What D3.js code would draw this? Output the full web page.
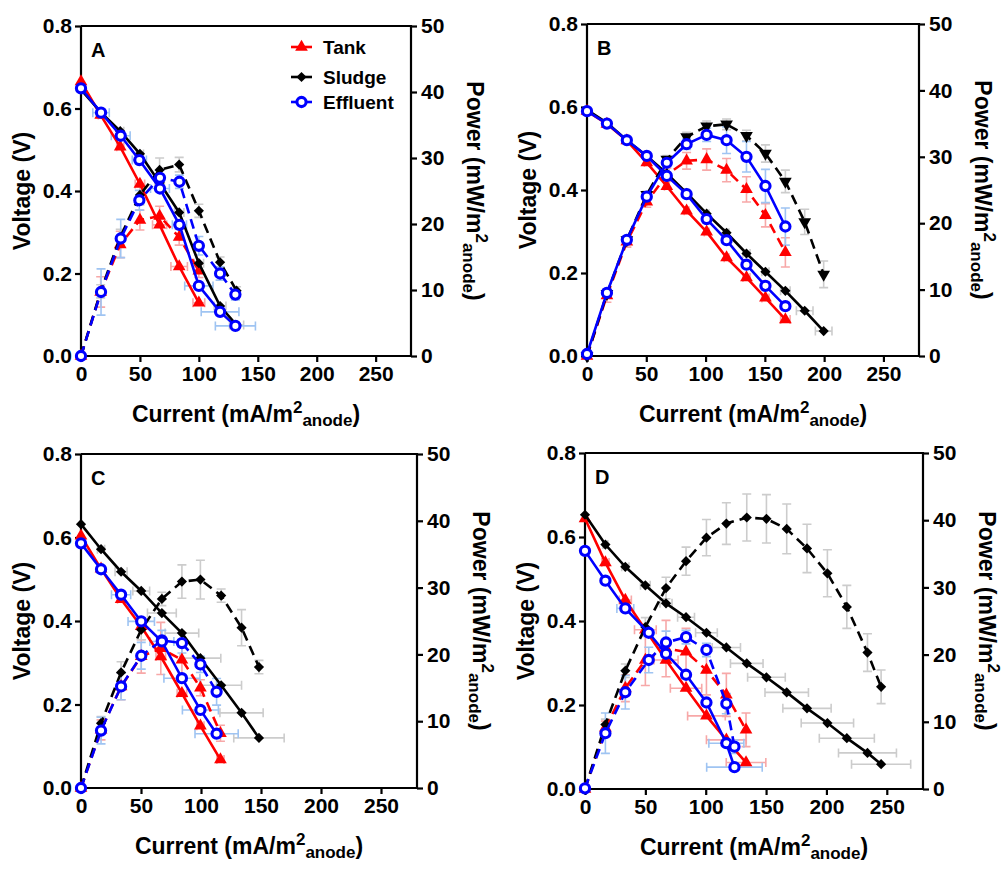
<!DOCTYPE html>
<html>
<head>
<meta charset="utf-8">
<script src="https://cdn.jsdelivr.net/npm/d3@7"></script>
<style>
body { margin: 0; background: #fff; }
svg text { font-family: "Liberation Sans", Arial, sans-serif; font-weight: bold; fill: #000; }
</style>
</head>
<body>
<svg id="chart" width="1005" height="871"></svg>
<script>
// ---- values ----
// I = current (mA/m2), V = voltage (V), P = power (mW/m2)
// Ie = current error (horizontal bars on V), Pe = power error (vertical bars on P)

// panel A
var A_tank_I = [0, 16.7, 33.3, 50, 66.7, 83.3, 100];
var A_tank_V = [0.665, 0.584, 0.507, 0.417, 0.318, 0.217, 0.129];
var A_tank_P = [0, 9.7, 16.9, 20.6, 21.2, 18.0, 12.9];
var A_tank_Ie = [0, 2, 3, 4, 6, 7, 5];
var A_tank_Pe = [0, 2.3, 2.0, 1.5, 1.5, 1.2, 1.0];

var A_sludge_I = [0, 16.7, 33.3, 50, 66.7, 83.3, 100, 118, 132];
var A_sludge_V = [0.646, 0.591, 0.545, 0.49, 0.42, 0.348, 0.225, 0.121, 0.075];
var A_sludge_P = [0, 9.8, 18.0, 24.4, 28.2, 29.0, 22.0, 14.2, 9.9];
var A_sludge_Ie = [0, 2, 3, 3, 4, 4, 4, 5, 6];
var A_sludge_Pe = [0, 1, 1.2, 1.5, 1.8, 1.1, 1.0, 0.8, 0.6];

var A_effluent_I = [0, 17, 33.7, 49.5, 67, 83.5, 100, 118, 131];
var A_effluent_V = [0.649, 0.59, 0.534, 0.475, 0.406, 0.318, 0.17, 0.107, 0.073];
var A_effluent_P = [0, 9.7, 17.8, 23.6, 27.0, 26.4, 16.7, 12.5, 9.3];
var A_effluent_Ie = [0, 7, 8, 6, 8, 6, 12, 16, 17];
var A_effluent_Pe = [0, 3.5, 2.9, 1.5, 1.2, 1.0, 1.4, 1.0, 0.8];

// panel B
var B_tank_I = [0, 16.8, 33.6, 50.4, 67.3, 84, 100.9, 117.7, 134.5, 150.5, 167.3];
var B_tank_V = [0.59, 0.559, 0.519, 0.466, 0.409, 0.35, 0.299, 0.237, 0.189, 0.14, 0.088];
var B_tank_P = [0, 9.1, 17.2, 23.2, 27.3, 29.4, 29.6, 28.0, 25.1, 21.2, 15.6];
var B_tank_Ie = [0, 1, 1, 2, 2, 2, 2, 2, 3, 3, 4];
var B_tank_Pe = [0, 1.0, 0.8, 0.8, 1.0, 1.25, 1.6, 1.75, 1.9, 1.75, 2.2];

var B_sludge_I = [0, 16.8, 33.6, 50.4, 67.3, 84, 100.9, 117.7, 134.5, 150.5, 167.3, 183.6, 199.6];
var B_sludge_V = [0.593, 0.562, 0.52, 0.482, 0.44, 0.393, 0.343, 0.297, 0.247, 0.203, 0.157, 0.109, 0.06];
var B_sludge_P = [0, 9.4, 17.5, 24.3, 29.6, 33.0, 34.6, 34.9, 33.2, 30.5, 26.3, 20.2, 12.3];
var B_sludge_Ie = [0, 1, 1, 1, 2, 2, 2, 2, 3, 3, 4, 7, 7];
var B_sludge_Pe = [0, 0.5, 0.5, 0.5, 0.6, 0.7, 0.8, 0.8, 0.8, 1.3, 1.7, 1.9, 2.0];

var B_effluent_I = [0, 16.8, 33.6, 50.4, 67.3, 84, 100.9, 117.7, 134.5, 150.5, 167.3];
var B_effluent_V = [0.59, 0.56, 0.52, 0.482, 0.434, 0.39, 0.33, 0.279, 0.22, 0.169, 0.12];
var B_effluent_P = [0.3, 9.5, 17.5, 24.0, 29.1, 31.9, 33.3, 32.5, 30.0, 25.6, 19.5];
var B_effluent_Ie = [0, 1, 1, 1, 1, 2, 2, 2, 2, 3, 3];
var B_effluent_Pe = [0, 0.5, 0.5, 0.5, 0.6, 0.8, 1.0, 2.0, 2.3, 2.5, 2.8];

// panel C
var C_tank_I = [0, 16.7, 33.4, 50.2, 66.5, 84.1, 99.5, 116.2];
var C_tank_V = [0.604, 0.525, 0.452, 0.387, 0.315, 0.227, 0.149, 0.068];
var C_tank_P = [0, 8.7, 15.2, 19.7, 20.9, 19.2, 15.0, 8.2];
var C_tank_Ie = [0, 2, 3, 3, 4, 4, 3, 3];
var C_tank_Pe = [0, 1.5, 2.0, 2.5, 3.9, 2.5, 1.2, 1.2];

var C_sludge_I = [0, 16.7, 33.4, 50.2, 67.4, 84.1, 99.5, 116.8, 133.8, 148.3];
var C_sludge_V = [0.632, 0.572, 0.518, 0.472, 0.419, 0.371, 0.311, 0.246, 0.18, 0.12];
var C_sludge_P = [0, 9.7, 17.3, 23.7, 28.3, 30.9, 31.2, 28.8, 24.0, 18.1];
var C_sludge_Ie = [0, 3, 5, 7, 12, 14, 17, 17, 18, 21];
var C_sludge_Pe = [0, 1, 1.6, 1.5, 1.0, 2.5, 2.9, 1.0, 2.7, 1.0];

var C_effluent_I = [0, 16.7, 33.4, 50.2, 67.4, 84.1, 99.5, 113];
var C_effluent_V = [0.586, 0.524, 0.463, 0.399, 0.351, 0.263, 0.187, 0.13];
var C_effluent_P = [0, 8.6, 15.2, 19.8, 22.1, 21.7, 18.5, 14.4];
var C_effluent_Ie = [0, 3, 8, 11, 10, 15, 15, 18];
var C_effluent_Pe = [0, 2, 2, 2, 1.5, 1.5, 1.2, 2];

// panel D
var D_tank_I = [0, 16.9, 33.4, 50, 67.1, 83.7, 100.6, 117.1, 133.4];
var D_tank_V = [0.644, 0.539, 0.45, 0.379, 0.307, 0.24, 0.174, 0.117, 0.063];
var D_tank_P = [0, 9.1, 15.0, 19.2, 20.9, 20.4, 17.7, 14.0, 8.8];
var D_tank_Ie = [0, 3, 5, 9, 10, 13, 15.6, 16.5, 16.4];
var D_tank_Pe = [0, 1, 2, 3.8, 4.2, 3.5, 3.7, 3.2, 2.5];

var D_sludge_I = [0, 16.9, 33.4, 50, 67.1, 83.7, 100.6, 117.1, 134, 150.3, 167.1, 183.9, 200.8, 216.9, 234, 245.3];
var D_sludge_V = [0.653, 0.582, 0.529, 0.485, 0.442, 0.409, 0.372, 0.337, 0.299, 0.266, 0.23, 0.192, 0.157, 0.121, 0.086, 0.059];
var D_sludge_P = [0, 9.6, 17.6, 24.1, 29.9, 33.9, 37.4, 39.5, 40.4, 40.2, 38.7, 35.8, 32.1, 27.1, 20.3, 15.2];
var D_sludge_Ie = [0, 2, 3, 4, 5, 7, 9, 11.7, 13.5, 15.6, 18, 20, 21.7, 22.8, 24, 24.5];
var D_sludge_Pe = [0, 0.8, 1, 1.4, 1.6, 2.1, 2.7, 3.1, 3.5, 3.6, 3.7, 3.6, 3.5, 3.2, 2.8, 2.5];

var D_effluent_I = [0, 16.9, 33.4, 52.8, 67.1, 83.7, 100.6, 117.1, 123.8];
var D_effluent_V = [0.567, 0.496, 0.43, 0.372, 0.322, 0.272, 0.206, 0.109, 0.052];
var D_effluent_P = [0.1, 8.3, 14.4, 19.2, 21.8, 22.6, 20.7, 12.7, 6.3];
var D_effluent_Ie = [0, 2, 7, 3, 3, 3, 3, 14.5, 23];
var D_effluent_Pe = [0, 3, 2.5, 1.9, 1.7, 1, 1, 1.5, 1];

// axis ticks
var xTicks = [0, 50, 100, 150, 200, 250];
var vTicks = [0, 0.2, 0.4, 0.6, 0.8];
var pTicks = [0, 10, 20, 30, 40, 50];
var legendNames = ["Tank", "Sludge", "Effluent"];

// ---- styles ----
var style = {
	Tank:     { color: "#ff0000", light: "#f7a8a8", marker: "tri" },
	Sludge:   { color: "#000000", light: "#cccccc", marker: "dia" },
	Effluent: { color: "#0000ff", light: "#9fc4f2", marker: "circ" }
};

function series(name, I, V, P, Ie, Pe, opts) {
	return Object.assign({ name: name, I: I, V: V, P: P, Ie: Ie, Pe: Pe,
		powerDash: true, powerMarker: style[name].marker }, opts || {});
}

var panels = [
	{ label: "A", box: { l: 81, r: 411, t: 26, b: 356 }, legend: true, series: [
		series("Tank", A_tank_I, A_tank_V, A_tank_P, A_tank_Ie, A_tank_Pe),
		series("Sludge", A_sludge_I, A_sludge_V, A_sludge_P, A_sludge_Ie, A_sludge_Pe),
		series("Effluent", A_effluent_I, A_effluent_V, A_effluent_P, A_effluent_Ie, A_effluent_Pe)] },
	{ label: "B", box: { l: 587, r: 919, t: 24, b: 356 }, series: [
		series("Tank", B_tank_I, B_tank_V, B_tank_P, B_tank_Ie, B_tank_Pe),
		series("Sludge", B_sludge_I, B_sludge_V, B_sludge_P, B_sludge_Ie, B_sludge_Pe, { powerMarker: "down" }),
		series("Effluent", B_effluent_I, B_effluent_V, B_effluent_P, B_effluent_Ie, B_effluent_Pe, { powerDash: false })] },
	{ label: "C", box: { l: 81, r: 417, t: 454, b: 788 }, series: [
		series("Tank", C_tank_I, C_tank_V, C_tank_P, C_tank_Ie, C_tank_Pe),
		series("Sludge", C_sludge_I, C_sludge_V, C_sludge_P, C_sludge_Ie, C_sludge_Pe),
		series("Effluent", C_effluent_I, C_effluent_V, C_effluent_P, C_effluent_Ie, C_effluent_Pe)] },
	{ label: "D", box: { l: 585, r: 923, t: 453, b: 789 }, series: [
		series("Tank", D_tank_I, D_tank_V, D_tank_P, D_tank_Ie, D_tank_Pe),
		series("Sludge", D_sludge_I, D_sludge_V, D_sludge_P, D_sludge_Ie, D_sludge_Pe),
		series("Effluent", D_effluent_I, D_effluent_V, D_effluent_P, D_effluent_Ie, D_effluent_Pe)] }
];

var svg = d3.select("#chart");

// draws one marker of the given kind at (0,0) inside g
function drawMarker(g, kind, color) {
	if (kind === "circ") {
		g.append("circle").attr("r", 4.6).attr("fill", "#fff")
			.attr("stroke", color).attr("stroke-width", 3.1);
	} else if (kind === "tri" || kind === "down") {
		g.append("path").attr("d", d3.symbol(d3.symbolTriangle, 70)())
			.attr("transform", kind === "down" ? "rotate(180)" : null)
			.attr("fill", color);
	} else {
		g.append("path").attr("d", d3.symbol(d3.symbolSquare, 52)())
			.attr("transform", "rotate(45)").attr("fill", color);
	}
}

panels.forEach(function(pn) {
	var b = pn.box;
	var x = d3.scaleLinear().domain([0, 280]).range([b.l, b.r]);
	var yV = d3.scaleLinear().domain([0, 0.8]).range([b.b, b.t]);
	var yP = d3.scaleLinear().domain([0, 50]).range([b.b, b.t]);
	var g = svg.append("g");

	// error bars behind everything
	var eb = g.append("g").attr("stroke-width", 1.6).attr("fill", "none");
	pn.series.forEach(function(s) {
		var c = style[s.name].light;
		s.I.forEach(function(I, i) {
			var e = s.Ie[i];
			if (e > 0) {
				var x0 = x(I - e), x1 = x(I + e), yy = yV(s.V[i]);
				eb.append("path").attr("stroke", c)
					.attr("d", "M" + x0 + "," + yy + "H" + x1 +
						"M" + x0 + "," + (yy - 4.5) + "V" + (yy + 4.5) +
						"M" + x1 + "," + (yy - 4.5) + "V" + (yy + 4.5));
			}
			var pe = s.Pe[i];
			if (pe > 0) {
				var xx = x(I), y0 = yP(s.P[i] - pe), y1 = yP(s.P[i] + pe);
				eb.append("path").attr("stroke", c)
					.attr("d", "M" + xx + "," + y0 + "V" + y1 +
						"M" + (xx - 4.5) + "," + y0 + "H" + (xx + 4.5) +
						"M" + (xx - 4.5) + "," + y1 + "H" + (xx + 4.5));
			}
		});
	});

	// axes
	var xAxis = d3.axisBottom(x).tickValues(xTicks).tickSize(6).tickPadding(4).tickFormat(d3.format("d"));
	var vAxis = d3.axisLeft(yV).tickValues(vTicks).tickSize(6).tickPadding(3).tickFormat(d3.format(".1f"));
	var pAxis = d3.axisRight(yP).tickValues(pTicks).tickSize(6).tickPadding(4).tickFormat(d3.format("d"));
	[[xAxis, "translate(0," + b.b + ")"], [vAxis, "translate(" + b.l + ",0)"], [pAxis, "translate(" + b.r + ",0)"]]
		.forEach(function(a) {
			var ax = g.append("g").attr("transform", a[1]).call(a[0]);
			ax.select(".domain").remove();
			ax.selectAll(".tick line").attr("stroke-width", 2.2);
			ax.selectAll("text").style("font-size", "21px").style("font-family", "'Liberation Sans', Arial, sans-serif")
				.style("font-weight", "bold").attr("fill", "#000");
		});
	// frame: left, bottom, right and top lines
	g.append("path").attr("fill", "none").attr("stroke", "#000").attr("stroke-width", 2.2)
		.attr("d", "M" + b.l + "," + b.t + "V" + b.b + "H" + b.r + "V" + b.t + "H" + b.l);

	// curves
	var lineV = function(s) {
		return d3.line().x(function(d, i) { return x(s.I[i]); }).y(function(d, i) { return yV(s.V[i]); })(s.I);
	};
	var lineP = function(s) {
		return d3.line().x(function(d, i) { return x(s.I[i]); }).y(function(d, i) { return yP(s.P[i]); })(s.I);
	};
	pn.series.forEach(function(s) {
		var c = style[s.name].color;
		g.append("path").attr("d", lineP(s)).attr("fill", "none").attr("stroke", c)
			.attr("stroke-width", 2.6).attr("stroke-dasharray", s.powerDash ? "10,6" : null);
		g.append("path").attr("d", lineV(s)).attr("fill", "none").attr("stroke", c)
			.attr("stroke-width", 2.6);
		s.I.forEach(function(I, i) {
			drawMarker(g.append("g").attr("transform", "translate(" + x(I) + "," + yP(s.P[i]) + ")"), s.powerMarker, c);
			drawMarker(g.append("g").attr("transform", "translate(" + x(I) + "," + yV(s.V[i]) + ")"), style[s.name].marker, c);
		});
	});

	// panel letter
	g.append("text").attr("x", b.l + 10).attr("y", b.t + 31).style("font-size", "20px").text(pn.label);

	// axis titles
	var cx = (b.l + b.r) / 2, cy = (b.t + b.b) / 2;
	var xt = g.append("text").attr("x", cx).attr("y", b.b + 66).attr("text-anchor", "middle").style("font-size", "23px");
	xt.append("tspan").text("Current (mA/m");
	xt.append("tspan").attr("dy", -9).style("font-size", "17px").text("2");
	xt.append("tspan").attr("dy", 13).style("font-size", "17px").text("anode");
	xt.append("tspan").attr("dy", -4).text(")");

	g.append("text").attr("transform", "translate(" + (b.l - 51) + "," + cy + ") rotate(-90)")
		.attr("text-anchor", "middle").style("font-size", "23px").text("Voltage (V)");

	var pt = g.append("text").attr("transform", "translate(" + (b.r + 56) + "," + cy + ") rotate(90)")
		.attr("text-anchor", "middle").style("font-size", "23px");
	pt.append("tspan").text("Power (mW/m");
	pt.append("tspan").attr("dy", -9).style("font-size", "17px").text("2");
	pt.append("tspan").attr("dy", 13).style("font-size", "17px").text("anode");
	pt.append("tspan").attr("dy", -4).text(")");

	// legend
	if (pn.legend) {
		legendNames.forEach(function(n, k) {
			var yy = [47, 77, 102][k];
			var lg = g.append("g").attr("transform", "translate(291," + yy + ")");
			lg.append("line").attr("x1", 0).attr("x2", 21).attr("stroke", style[n].color).attr("stroke-width", 2.6);
			drawMarker(lg.append("g").attr("transform", "translate(10.5,0)"), style[n].marker, style[n].color);
			lg.append("text").attr("x", 32).attr("y", 7).style("font-size", "19px").text(n);
		});
	}
});
</script>
</body>
</html>
